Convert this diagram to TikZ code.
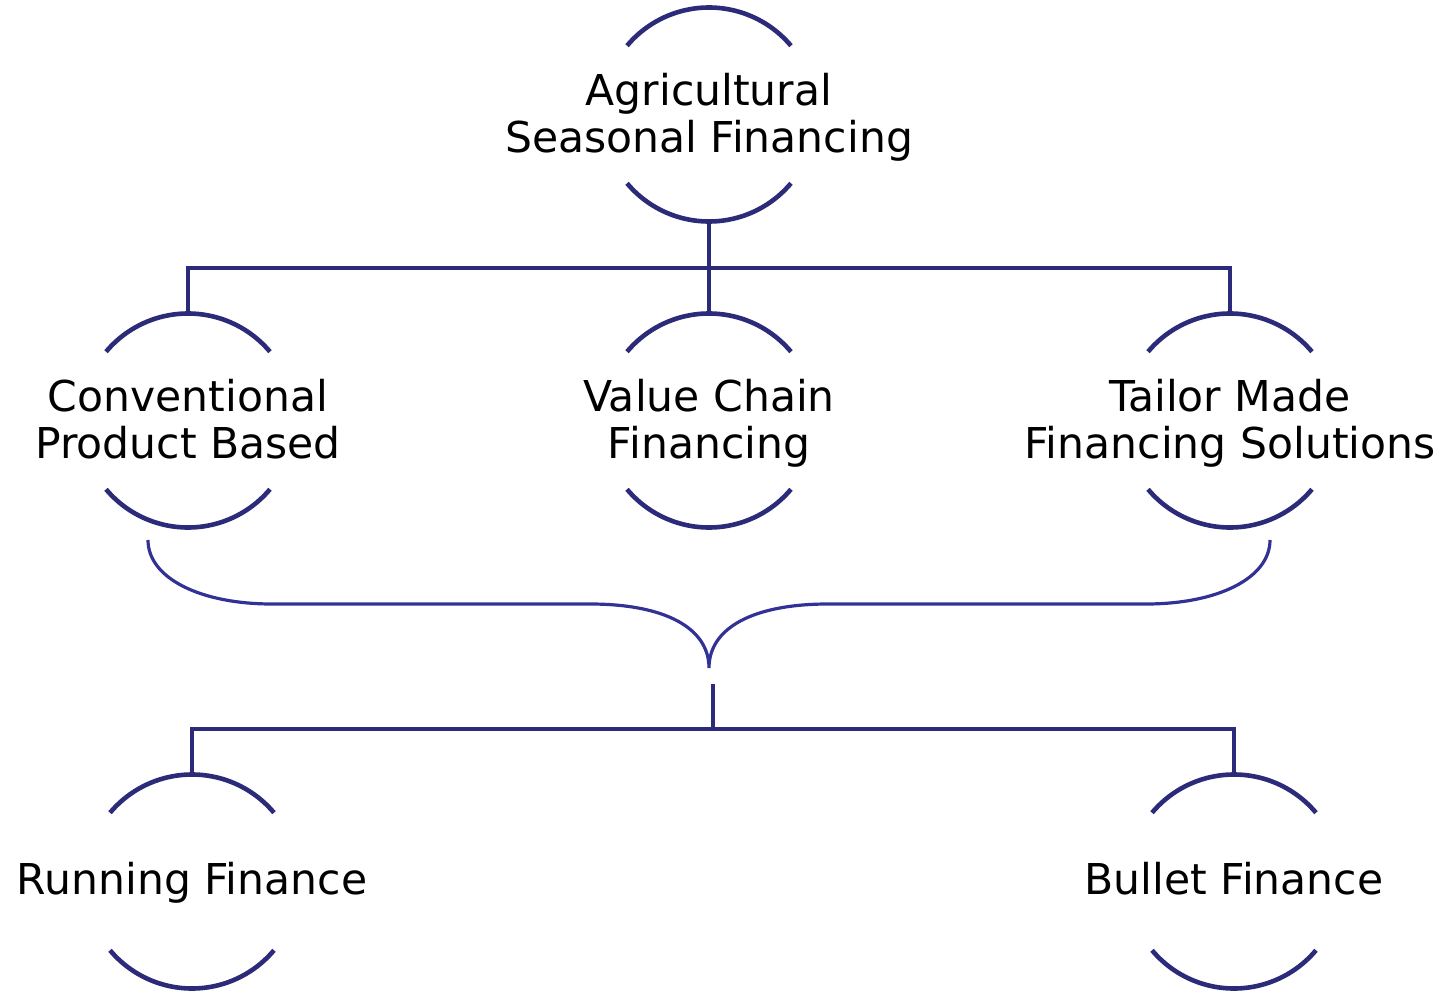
\documentclass[tikz,border=0pt]{standalone}
\usepackage{fontspec}
\setmainfont{DejaVu Sans}
\definecolor{navy}{RGB}{43,43,122}
\definecolor{bracec}{RGB}{50,50,150}
\begin{document}
\begin{tikzpicture}[x=1pt,y=1pt,
  ring/.style={circle,minimum size=214pt,inner sep=0pt,outer sep=0pt,draw=none},
  txt/.style={align=center,inner sep=0pt,text height=31pt,text depth=0pt,
    font=\fontsize{42.5}{47}\selectfont,text=black},
  twoline/.style={yshift=-22pt},
  oneline/.style={yshift=3pt},
  arcline/.style={draw=navy,line width=4.6pt},
  conn/.style={draw=navy,line width=4.6pt},
  bracel/.style={draw=bracec,line width=3.2pt}]
\useasboundingbox (0,0) rectangle (1444,-993);
% rings
\node[ring] (top) at (709,-114.5) {};
\node[ring] (m1) at (188,-420.5) {};
\node[ring] (m2) at (709,-420.5) {};
\node[ring] (m3) at (1230,-420.5) {};
\node[ring] (b1) at (192,-881.5) {};
\node[ring] (b2) at (1234,-881.5) {};
% texts
\node[txt,twoline] (toptext) at (top) {Agricultural\\Seasonal Financing};
\node[txt,twoline] (m1text) at (m1) {Conventional\\Product Based};
\node[txt,twoline] (m2text) at (m2) {Value Chain\\Financing};
\node[txt,twoline] (m3text) at (m3) {Tailor Made\\Financing Solutions};
\node[txt,oneline] (b1text) at (b1) {Running Finance};
\node[txt,oneline] (b2text) at (b2) {Bullet Finance};
% arcs
\foreach \n in {top,m1,m2,m3,b1,b2}{
  \draw[arcline] (\n.40) arc[start angle=40,end angle=140,radius=107pt];
  \draw[arcline] (\n.220) arc[start angle=220,end angle=320,radius=107pt];
}
% top connectors
\coordinate (j1) at (709,-268);
\draw[conn] (top.south) -- (j1);
\draw[conn] (m1.north) |- (j1) -| (m3.north);
\draw[conn] (j1) -- (m2.north);
% brace
\coordinate (bl) at (148,-540);
\coordinate (br) at (1270,-540);
\coordinate (tip) at (709,-668);
\draw[bracel] (bl) .. controls (148,-578) and (200,-604) .. (272,-604) -- (590,-604)
  .. controls (665,-604) and (709,-628) .. (tip)
  .. controls (709,-628) and (753,-604) .. (828,-604) -- (1146,-604)
  .. controls (1218,-604) and (1270,-578) .. (br);
% bottom connectors
\coordinate (j2) at (713,-684);
\coordinate (j3) at (713,-729);
\draw[conn] (j2) -- (j3);
\draw[conn] (b1.north) |- (j3) -| (b2.north);
\end{tikzpicture}
\end{document}
